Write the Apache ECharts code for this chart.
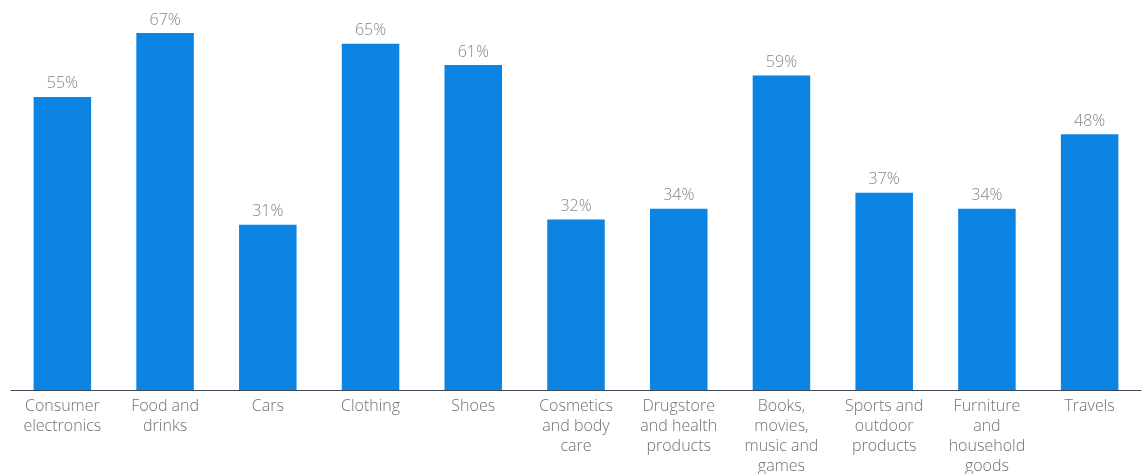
<!DOCTYPE html>
<html><head><meta charset="utf-8">
<script src="https://cdn.jsdelivr.net/npm/echarts@6/dist/echarts.min.js"></script>
<style>html,body{margin:0;padding:0;background:#fff}#c{width:1143px;height:474px}</style>
</head><body><div id="c"></div>
<script>
const categories = ["Consumer\nelectronics","Food and\ndrinks","Cars","Clothing","Shoes","Cosmetics\nand body\ncare","Drugstore\nand health\nproducts","Books,\nmovies,\nmusic and\ngames","Sports and\noutdoor\nproducts","Furniture\nand\nhousehold\ngoods","Travels"];
const values = [55,67,31,65,61,32,34,59,37,34,48];
const chart = echarts.init(document.getElementById('c'));
chart.setOption({
  animation:false,
  grid:{left:11,right:2,top:17,bottom:84,containLabel:false,outerBoundsMode:'none'},
  xAxis:{type:'category',data:categories,
    axisLine:{lineStyle:{color:'#3d4a5a',width:1}},
    axisTick:{show:false},
    axisLabel:{interval:0,color:'#707070',fontFamily:'Open Sans',fontWeight:300,fontSize:16,lineHeight:20,margin:6}},
  yAxis:{type:'value',min:0,max:70,show:false,splitLine:{show:false}},
  series:[{type:'bar',data:values,barWidth:'56%',
    itemStyle:{color:'#0c84e4'},
    label:{show:true,position:'top',formatter:'{c}%',color:'#858585',fontFamily:'Open Sans',fontWeight:300,fontSize:16,distance:5}}]
});
</script></body></html>
